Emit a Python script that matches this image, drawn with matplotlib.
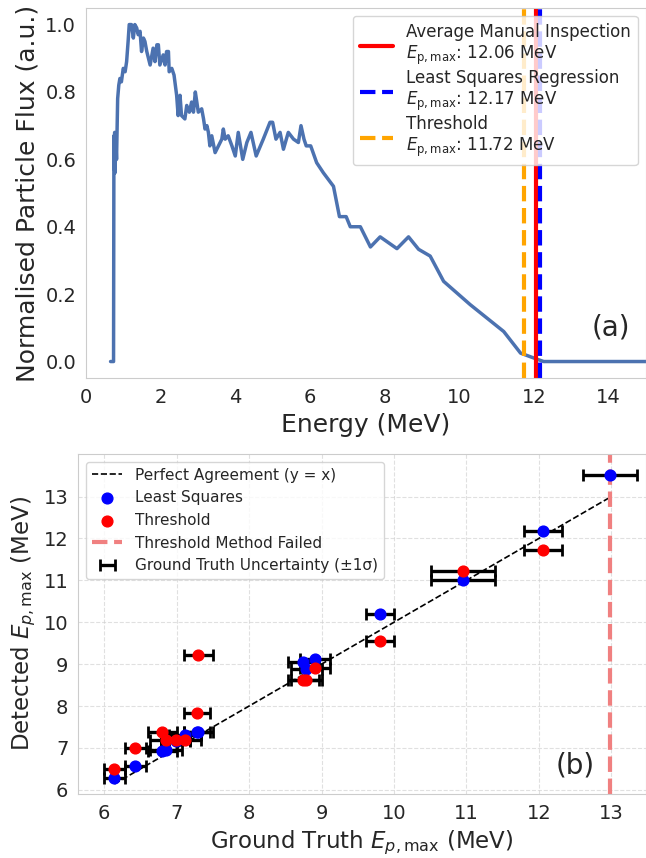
import numpy as np
import matplotlib
matplotlib.use("Agg")
import matplotlib.pyplot as plt
import seaborn as sns

sns.set_style("whitegrid")
plt.rcParams["font.family"] = ["DejaVu Sans"]

# %% data: panel (a) spectrum
energy = [0.66, 0.74, 0.75, 0.76, 0.77, 0.78, 0.80, 0.82, 0.85, 0.88, 0.91, 0.95,
          1.00, 1.05, 1.09, 1.13, 1.16, 1.22, 1.27, 1.31, 1.36, 1.40, 1.45, 1.49,
          1.54, 1.58, 1.63, 1.72, 1.80, 1.85, 1.90, 1.94, 1.98, 2.07, 2.12, 2.16,
          2.21, 2.23, 2.30, 2.36, 2.43, 2.47, 2.52, 2.56, 2.65, 2.70, 2.77, 2.83,
          2.88, 2.93, 2.97, 3.01, 3.10, 3.15, 3.19, 3.24, 3.28, 3.32, 3.37, 3.46,
          3.55, 3.64, 3.68, 3.73, 3.81, 3.91, 4.00, 4.08, 4.20, 4.31, 4.42, 4.56,
          4.75, 4.93, 5.00, 5.09, 5.20, 5.29, 5.42, 5.56, 5.69, 5.76, 5.84, 5.90,
          6.02, 6.18, 6.36, 6.63, 6.79, 6.97, 7.08, 7.35, 7.62, 7.88, 8.33, 8.64,
          8.91, 9.22, 9.58, 10.29, 11.19, 11.64, 12.08, 12.26, 15.0]
flux = [0.0, 0.0, 0.67, 0.57, 0.68, 0.56, 0.66, 0.60, 0.78, 0.82, 0.84, 0.83,
        0.87, 0.86, 0.89, 0.95, 1.00, 1.00, 0.96, 1.00, 0.99, 0.97, 0.98, 0.92,
        0.96, 0.95, 0.92, 0.88, 0.93, 0.89, 0.94, 0.94, 0.88, 0.91, 0.88, 0.92,
        0.92, 0.86, 0.87, 0.85, 0.79, 0.73, 0.79, 0.73, 0.72, 0.76, 0.74, 0.77,
        0.74, 0.80, 0.77, 0.74, 0.75, 0.72, 0.69, 0.70, 0.68, 0.64, 0.67, 0.62,
        0.64, 0.66, 0.69, 0.66, 0.67, 0.64, 0.61, 0.68, 0.60, 0.65, 0.68, 0.61,
        0.66, 0.71, 0.71, 0.66, 0.68, 0.63, 0.68, 0.66, 0.65, 0.70, 0.66, 0.64,
        0.64, 0.59, 0.56, 0.52, 0.43, 0.43, 0.40, 0.40, 0.34, 0.37, 0.335, 0.37,
        0.333, 0.313, 0.238, 0.169, 0.089, 0.025, 0.007, 0.0, 0.0]

cutoff_labels = ["Average Manual Inspection", "Least Squares Regression", "Threshold"]
cutoff_values = [12.06, 12.17, 11.72]

# %% data: panel (b) comparison
gt = [6.14, 6.43, 6.80, 6.85, 6.99, 7.12, 7.30, 7.28, 8.75, 8.79, 8.91, 9.81,
      10.95, 12.06, 12.98]
gt_sigma = [0.14, 0.14, 0.20, 0.22, 0.20, 0.22, 0.20, 0.18, 0.21, 0.21, 0.21,
            0.19, 0.44, 0.26, 0.37]
ls_det = [6.27, 6.57, 6.93, 6.95, 7.17, 7.30, 7.37, 7.38, 9.06, 8.88, 9.13,
          10.19, 11.00, 12.17, 13.52]
th_det = [6.50, 7.00, 7.39, 7.19, 7.19, 7.19, 9.21, 7.83, 8.62, 8.62, 8.90,
          9.56, 11.22, 11.72, np.nan]

gt = np.array(gt)
gt_sigma = np.array(gt_sigma)
ls_det = np.array(ls_det)
th_det = np.array(th_det)
failed = np.isnan(th_det)

# %% figure
fig = plt.figure(figsize=(6.46, 8.58), dpi=100)
ax1 = fig.add_axes([0.133, 0.559, 0.867, 0.432])
ax2 = fig.add_axes([0.121, 0.0746, 0.879, 0.3964])

# panel (a)
ax1.plot(energy, flux, color="#4C72B0", lw=2.5)
ax1.axvline(cutoff_values[0], color="red", lw=3, ls="-",
            label=f"{cutoff_labels[0]}\n$E_{{\\mathrm{{p,max}}}}$: {cutoff_values[0]:.2f} MeV")
ax1.axvline(cutoff_values[1], color="blue", lw=3, ls="--",
            label=f"{cutoff_labels[1]}\n$E_{{\\mathrm{{p,max}}}}$: {cutoff_values[1]:.2f} MeV")
ax1.axvline(cutoff_values[2], color="orange", lw=3, ls="--",
            label=f"{cutoff_labels[2]}\n$E_{{\\mathrm{{p,max}}}}$: {cutoff_values[2]:.2f} MeV")
ax1.set_xlim(0, 15)
ax1.set_ylim(-0.05, 1.05)
ax1.set_xticks(np.arange(0, 15, 2))
ax1.set_yticks(np.arange(0, 1.01, 0.2))
ax1.grid(False)
ax1.set_xlabel("Energy (MeV)", fontsize=18)
ax1.set_ylabel("Normalised Particle Flux (a.u.)", fontsize=18)
ax1.tick_params(labelsize=14)
ax1.legend(loc="upper right", fontsize=12, labelspacing=0.1)
ax1.text(0.9375, 0.138, "(a)", transform=ax1.transAxes, fontsize=20,
         ha="center", va="center")

# panel (b)
ax2.plot([gt.min(), gt.max()], [gt.min(), gt.max()], "k--", lw=1.2,
         label="Perfect Agreement (y = x)")
ax2.errorbar(gt, ls_det, xerr=gt_sigma, fmt="none", ecolor="black", elinewidth=2.4,
             capsize=4, capthick=2, zorder=2, label="Ground Truth Uncertainty (±1σ)")
ax2.errorbar(gt[~failed], th_det[~failed], xerr=gt_sigma[~failed], fmt="none",
             ecolor="black", elinewidth=2.4, capsize=4, capthick=2, zorder=2)
ax2.scatter(gt, ls_det, color="blue", s=60, zorder=3, label="Least Squares")
ax2.scatter(gt[~failed], th_det[~failed], color="red", s=60, zorder=3, label="Threshold")
for x in gt[failed]:
    ax2.axvline(x, color="lightcoral", ls="--", lw=3, label="Threshold Method Failed")

ax2.set_xlim(gt.min() - 0.5, gt.max() + 0.5)
ax2.set_ylim(5.9, 14.02)
ax2.set_yticks(np.arange(6, 14))
ax2.grid(True, ls="--", alpha=0.6)
ax2.set_xlabel("Ground Truth $E_{p,\\mathrm{max}}$ (MeV)", fontsize=16.5)
ax2.set_ylabel("Detected $E_{p,\\mathrm{max}}$ (MeV)", fontsize=16.5)
ax2.tick_params(labelsize=14)
handles, labels = ax2.get_legend_handles_labels()
order = ["Perfect Agreement (y = x)", "Least Squares", "Threshold",
         "Threshold Method Failed", "Ground Truth Uncertainty (±1σ)"]
hmap = dict(zip(labels, handles))
ax2.legend([hmap[k] for k in order], order, loc="upper left", fontsize=11)
ax2.text(0.875, 0.085, "(b)", transform=ax2.transAxes, fontsize=20,
         ha="center", va="center")

fig.savefig("out.png", dpi=100)
